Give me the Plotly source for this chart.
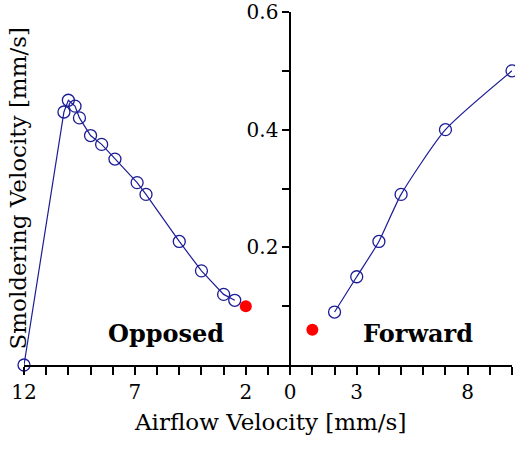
import plotly.graph_objects as go

# Opposed flow: airflow velocity (mm/s), plotted to the left of zero
opposed_airflow = [12, 10.2, 10.0, 9.7, 9.5, 9.0, 8.5, 7.9, 6.9, 6.5, 5.0, 4.0, 3.0, 2.5]
opposed_smolder = [0.0, 0.43, 0.45, 0.44, 0.42, 0.39, 0.375, 0.35, 0.31, 0.29, 0.21, 0.16, 0.12, 0.11]
opposed_red_airflow = [2.0]
opposed_red_smolder = [0.10]

# Forward flow
forward_airflow = [2, 3, 4, 5, 7, 10]
forward_smolder = [0.09, 0.15, 0.21, 0.29, 0.40, 0.50]
forward_red_airflow = [1.0]
forward_red_smolder = [0.06]

x_tick_vals = list(range(-12, 11))
x_tick_labels = {-12: "12", -7: "7", -2: "2", 0: "0", 3: "3", 8: "8"}
y_tick_vals = [0.1, 0.2, 0.3, 0.4, 0.5, 0.6]
y_tick_labels = ["", "0.2", "", "0.4", "", "0.6"]

NAVY = "#1c1c96"
RED = "#ff0000"
FONT = "DejaVu Serif"

fig = go.Figure()
fig.add_trace(go.Scatter(
    x=[-v for v in opposed_airflow], y=opposed_smolder, mode="lines+markers",
    line=dict(color=NAVY, width=1.2), cliponaxis=False,
    marker=dict(symbol="circle-open", size=12, color=NAVY, line=dict(width=1.3)),
    showlegend=False))
fig.add_trace(go.Scatter(
    x=forward_airflow, y=forward_smolder, mode="lines+markers",
    line=dict(color=NAVY, width=1.2, shape="spline", smoothing=0.6), cliponaxis=False,
    marker=dict(symbol="circle-open", size=12, color=NAVY, line=dict(width=1.3)),
    showlegend=False))
fig.add_trace(go.Scatter(
    x=[-v for v in opposed_red_airflow] + forward_red_airflow,
    y=opposed_red_smolder + forward_red_smolder, mode="markers",
    marker=dict(symbol="circle", size=12, color=RED), cliponaxis=False,
    showlegend=False))

fig.update_layout(
    width=515, height=449,
    margin=dict(l=24, r=3, t=12, b=84),
    paper_bgcolor="white", plot_bgcolor="white",
    font=dict(family=FONT, color="black", size=20),
    xaxis=dict(
        range=[-12, 10], showgrid=False, zeroline=False, automargin=False,
        showline=True, linecolor="black", linewidth=2,
        ticks="outside", ticklen=8, tickwidth=1.5, tickcolor="black",
        tickvals=x_tick_vals,
        ticktext=[x_tick_labels.get(v, "") for v in x_tick_vals],
        tickfont=dict(size=20, family=FONT), ticklabeloverflow="allow",
    ),
    yaxis=dict(
        range=[0, 0.6], showgrid=False, zeroline=False, automargin=False,
        showline=True, linecolor="black", linewidth=1.5,
        anchor="free", position=12 / 22,
        ticks="outside", ticklen=7, tickwidth=1.5, tickcolor="black",
        tickvals=y_tick_vals, ticktext=y_tick_labels,
        tickfont=dict(size=20, family=FONT), ticklabeloverflow="allow",
    ),
    annotations=[
        dict(text="Smoldering Velocity [mm/s]", xref="paper", yref="paper",
             x=0, y=0.5, xshift=-7, textangle=-90, showarrow=False,
             xanchor="center", yanchor="middle", font=dict(size=23, family=FONT)),
        dict(text="Airflow Velocity [mm/s]", xref="paper", yref="paper",
             x=0.504, y=-0.161, showarrow=False, xanchor="center", yanchor="middle",
             font=dict(size=23, family=FONT)),
        dict(text="<b>Opposed</b>", x=-5.59, y=0.054, showarrow=False,
             xanchor="center", yanchor="middle", font=dict(size=24, family=FONT)),
        dict(text="<b>Forward</b>", x=5.77, y=0.054, showarrow=False,
             xanchor="center", yanchor="middle", font=dict(size=24, family=FONT)),
    ],
)

# remove the default 8px page margin so the figure fills the window exactly
fig.write_html("out.html", config={"displayModeBar": False},
               post_script="document.body.style.margin='0';document.body.style.overflow='hidden';")
